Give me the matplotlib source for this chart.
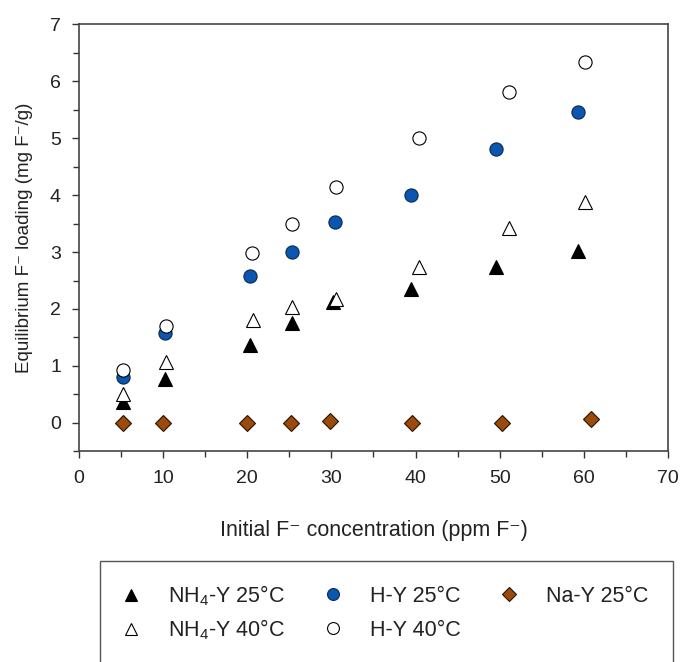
import matplotlib
matplotlib.use("Agg")
import matplotlib.pyplot as plt
from matplotlib.ticker import MultipleLocator
from matplotlib.patches import Rectangle

plt.rcParams['font.family'] = ['Liberation Sans', 'DejaVu Sans']
plt.rcParams['mathtext.fontset'] = 'custom'
plt.rcParams['mathtext.rm'] = 'Liberation Sans'
plt.rcParams['mathtext.it'] = 'Liberation Sans'

# NH4-Y 25°C
nh4_25_x = [5.2, 10.2, 20.3, 25.3, 30.2, 39.5, 49.5, 59.3]
nh4_25_y = [0.37, 0.77, 1.37, 1.75, 2.12, 2.35, 2.74, 3.02]
# NH4-Y 40°C
nh4_40_x = [5.2, 10.4, 20.7, 25.3, 30.5, 40.4, 51.1, 60.1]
nh4_40_y = [0.50, 1.07, 1.80, 2.03, 2.18, 2.74, 3.42, 3.88]
# H-Y 25°C
hy_25_x = [5.2, 10.2, 20.3, 25.3, 30.4, 39.5, 49.5, 59.3]
hy_25_y = [0.80, 1.58, 2.58, 3.00, 3.52, 4.00, 4.80, 5.46]
# H-Y 40°C
hy_40_x = [5.2, 10.4, 20.6, 25.3, 30.6, 40.4, 51.1, 60.1]
hy_40_y = [0.93, 1.70, 2.98, 3.49, 4.14, 5.00, 5.80, 6.33]
# Na-Y 25°C
na_25_x = [5.2, 10.0, 20.0, 25.2, 29.8, 39.6, 50.3, 60.8]
na_25_y = [0.00, 0.00, 0.00, 0.00, 0.03, 0.00, 0.00, 0.07]

W, H = 682, 662
fig = plt.figure(figsize=(W / 100, H / 100), dpi=100)
ax = fig.add_axes([0.1158, 0.318, 0.8637, 0.6457])

ms = 9.5
h1, = ax.plot(nh4_25_x, nh4_25_y, '^', ms=ms, color='black', mec='black', mew=0.8,
              label='NH$_4$-Y 25°C', linestyle='none')
h2, = ax.plot(nh4_40_x, nh4_40_y, '^', ms=ms, mfc='white', mec='black', mew=0.8,
              label='NH$_4$-Y 40°C', linestyle='none')
h3, = ax.plot(hy_25_x, hy_25_y, 'o', ms=ms, mfc='#0a56b0', mec='#0a2a50', mew=0.8,
              label='H-Y 25°C', linestyle='none')
h4, = ax.plot(hy_40_x, hy_40_y, 'o', ms=ms, mfc='white', mec='black', mew=0.8,
              label='H-Y 40°C', linestyle='none')
h5, = ax.plot(na_25_x, na_25_y, 'D', ms=8, mfc='#9a4a0c', mec='#2a1200', mew=0.8,
              label='Na-Y 25°C', linestyle='none')

ax.set_xlim(0, 70)
ax.set_ylim(-0.5, 7)
ax.xaxis.set_major_locator(MultipleLocator(10))
ax.xaxis.set_minor_locator(MultipleLocator(5))
ax.yaxis.set_major_locator(MultipleLocator(1))
ax.yaxis.set_minor_locator(MultipleLocator(0.5))
ax.tick_params(which='both', direction='out', top=False, right=False,
               color='#333333', width=1.0, labelsize=14, labelcolor='#222222')
ax.tick_params(which='major', length=5, pad=8)
ax.tick_params(which='minor', length=4)
for s in ax.spines.values():
    s.set_color('#444444')
    s.set_linewidth(1.2)

ax.set_xlabel('Initial F\u207b concentration (ppm F\u207b)', fontsize=15.5,
              color='#222222', labelpad=24)
ax.set_ylabel('Equilibrium F\u207b loading (mg F\u207b/g)', fontsize=13.5,
              color='#222222', labelpad=12)

# legend box, bottom edge runs past the figure
fig.add_artist(Rectangle((100 / W, -0.05), 573 / W, 0.05 + 1 - 561 / H,
                         transform=fig.transFigure, fill=False,
                         edgecolor='#555555', linewidth=1.0))

# one legend entry per slot: (handle, marker x px, row y px)
entries = [(h1, 131, 596), (h2, 131, 630), (h3, 333, 596),
           (h4, 333, 630), (h5, 509, 596)]
fs = 15.5
em = fs * 100 / 72
for h, mx, ry in entries:
    lg = fig.legend(handles=[h], loc='center left',
                    bbox_to_anchor=((mx - 0.5 * em) / W, 1 - ry / H),
                    fontsize=fs, markerscale=0.9, frameon=False,
                    handlelength=1.0, handletextpad=1.22,
                    borderpad=0, borderaxespad=0)
    for t in lg.get_texts():
        t.set_color('#222222')

fig.savefig('out.png', dpi=100)
